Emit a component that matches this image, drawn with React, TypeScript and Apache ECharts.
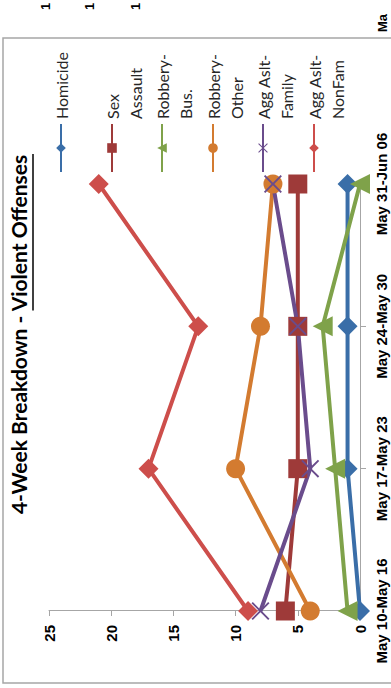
import React, { useEffect, useRef } from 'react';
import * as echarts from 'echarts';

// ---- data ----
const categories = ['May 10-May 16', 'May 17-May 23', 'May 24-May 30', 'May 31-Jun 06'];
const seriesNames = ['Homicide', 'Sex Assault', 'Robbery-Bus.', 'Robbery-Other', 'Agg Aslt-Family', 'Agg Aslt-NonFam'];
const legendLabels = ['Homicide', 'Sex\nAssault', 'Robbery-\nBus.', 'Robbery-\nOther', 'Agg Aslt-\nFamily', 'Agg Aslt-\nNonFam'];
const homicide = [0, 1, 1, 1];
const sexAssault = [6, 5, 5, 5];
const robberyBus = [1, 2, 3, 0];
const robberyOther = [4, 10, 8, 7];
const aggAsltFamily = [8, 4, 5, 7];
const aggAsltNonFam = [9, 17, 13, 21];
const valueMin = 0;
const valueMax = 25;
const valueInterval = 5;
const titleMain = '4-Week Breakdown - ';
const titleEmph = 'Violent Offenses';
const neighborTickLabels = ['1', '1', '1'];
const neighborCategoryLabel = 'Ma';

// ---- styles ----
const colors = ['#3a6ea8', '#9e3a39', '#7fa24a', '#d37b30', '#6a4c8c', '#cd4e4b'];
const xSymbol = 'path://M0,1.5L1.5,0L10,8.5L18.5,0L20,1.5L11.5,10L20,18.5L18.5,20L10,11.5L1.5,20L0,18.5L8.5,10Z';
const symbols = ['diamond', 'rect', 'triangle', 'circle', xSymbol, 'diamond'];
const symbolSizes = [20, 19, 20, 19, 18, 20];
const legendCenters = [61, 112, 162, 213, 263, 314];

const W = 688;
const H = 391;

function measure(text: string, font: string): number {
  const c = document.createElement('canvas');
  const ctx = c.getContext('2d');
  if (!ctx) return text.length * 10;
  ctx.font = font;
  return ctx.measureText(text).width;
}

export default function App() {
  const ref = useRef<HTMLDivElement>(null);
  useEffect(() => {
    if (!ref.current) return;
    const chart = echarts.init(ref.current, undefined, { renderer: 'svg' });
    const allData = [homicide, sexAssault, robberyBus, robberyOther, aggAsltFamily, aggAsltNonFam];

    const titleFont = 'bold 21px Lato';
    const wMain = measure(titleMain, titleFont);
    const wAll = measure(titleMain + titleEmph, titleFont);
    const titleCenter = 354;
    const titleLeft = titleCenter - wAll / 2;

    const option: any = {
      animation: false,
      backgroundColor: '#ffffff',
      title: {
        text: titleMain + titleEmph,
        left: titleLeft,
        top: 8,
        padding: 0,
        textStyle: { fontFamily: 'Lato', fontWeight: 'bold', fontSize: 21, color: '#000000' },
      },
      legend: seriesNames.map((name, i) => ({
        data: [name],
        orient: 'vertical',
        left: 515,
        top: i === 0 ? legendCenters[i] - 11.5 : legendCenters[i] - 34.5,
        padding: 0,
        itemWidth: 48,
        itemHeight: 12,
        selectedMode: false,
        formatter: () => (i === 0 ? legendLabels[i] : '\n' + legendLabels[i]),
        textStyle: {
          fontFamily: 'Lato',
          fontSize: 16,
          lineHeight: 23,
          color: '#262626',
        },
      })),
      grid: { left: 77, right: 184, top: 49, bottom: 31, containLabel: false },
      xAxis: {
        type: 'category',
        data: categories,
        boundaryGap: false,
        axisLine: { show: true, lineStyle: { color: '#a6a6a6', width: 1 } },
        axisTick: { show: true, length: 6, lineStyle: { color: '#a6a6a6' } },
        axisLabel: {
          fontFamily: 'Liberation Sans',
          fontWeight: 'bold',
          fontSize: 15,
          color: '#000000',
          margin: 14,
          interval: 0,
        },
        splitLine: { show: false },
      },
      yAxis: {
        type: 'value',
        min: valueMin,
        max: valueMax,
        interval: valueInterval,
        axisLine: { show: true, lineStyle: { color: '#a6a6a6', width: 1 } },
        axisTick: { show: true, length: 5, lineStyle: { color: '#a6a6a6' } },
        axisLabel: {
          fontFamily: 'Liberation Sans',
          fontWeight: 'bold',
          fontSize: 15,
          color: '#000000',
          margin: 14,
        },
        splitLine: { show: false },
      },
      series: seriesNames.map((name, i) => ({
        type: 'line',
        name,
        data: allData[i],
        symbol: symbols[i],
        symbolSize: symbolSizes[i],
        showAllSymbol: true,
        lineStyle: { width: 4, color: colors[i] },
        itemStyle: { color: colors[i] },
        emphasis: { disabled: true },
      })),
      graphic: [
        {
          type: 'rect',
          shape: { x: 5, y: 3, width: 645, height: 420 },
          style: { fill: 'none', stroke: '#a6a6a6', lineWidth: 1.5 },
          silent: true,
        },
        {
          type: 'line',
          shape: { x1: titleLeft + wMain, y1: 33, x2: titleLeft + wAll, y2: 33 },
          style: { stroke: '#000000', lineWidth: 1.5 },
          silent: true,
        },
        ...neighborTickLabels.map((t, i) => ({
          type: 'text',
          x: 678,
          y: [45, 89, 135][i],
          style: {
            text: t,
            fontFamily: 'Liberation Sans',
            fontWeight: 'bold',
            fontSize: 13,
            fill: '#000000',
            align: 'left',
            verticalAlign: 'middle',
          },
          silent: true,
        })),
        {
          type: 'text',
          x: 656,
          y: 382,
          style: {
            text: neighborCategoryLabel,
            fontFamily: 'Liberation Sans',
            fontWeight: 'bold',
            fontSize: 13,
            fill: '#000000',
            align: 'left',
            verticalAlign: 'middle',
          },
          silent: true,
        },
      ],
    };
    chart.setOption(option);
    return () => chart.dispose();
  }, []);

  return (
    <div
      style={{
        position: 'absolute',
        left: 0,
        top: 0,
        width: 391,
        height: 688,
        overflow: 'hidden',
        background: '#ffffff',
      }}
    >
      <div
        ref={ref}
        style={{
          position: 'absolute',
          left: 0,
          top: 0,
          width: W,
          height: H,
          transformOrigin: '0 0',
          transform: 'translateY(688px) rotate(-90deg)',
        }}
      />
    </div>
  );
}
